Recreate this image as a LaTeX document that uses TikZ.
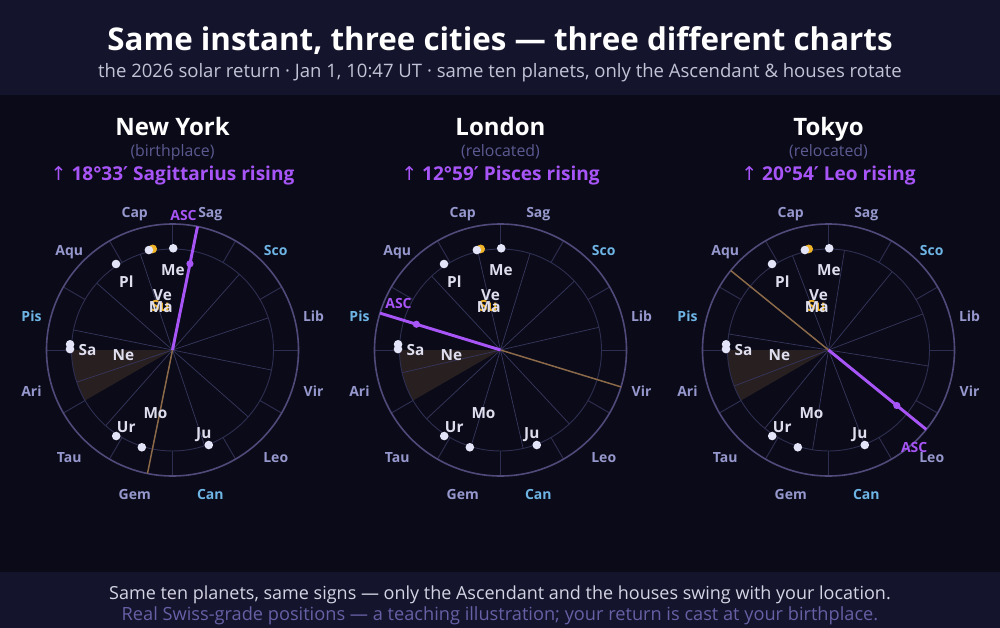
\documentclass[tikz,border=0pt]{standalone}
\usepackage{fontspec}
\setmainfont{Open Sans}
\newfontfamily\arrowfont{DejaVu Sans}
\newcommand\risearrow{{\arrowfont\mdseries ↑}}
\newcommand\minsign{{\arrowfont ′}}
\definecolor{pagebg}{RGB}{10,10,24}
\definecolor{bandbg}{RGB}{20,20,44}
\definecolor{rimc}{RGB}{80,74,122}
\definecolor{ringc}{RGB}{46,46,80}
\definecolor{cuspc}{RGB}{54,54,92}
\definecolor{signc}{RGB}{150,152,205}
\definecolor{waterc}{RGB}{110,180,228}
\definecolor{planetc}{RGB}{222,222,238}
\definecolor{dotc}{RGB}{228,228,248}
\definecolor{sunc}{RGB}{240,180,40}
\definecolor{ascc}{RGB}{168,85,247}
\definecolor{dscc}{RGB}{140,106,72}
\definecolor{wedgec}{RGB}{40,31,33}
\definecolor{subc}{RGB}{195,195,215}
\definecolor{tagc}{RGB}{92,90,145}
\definecolor{footc}{RGB}{212,212,228}
\definecolor{notec}{RGB}{102,96,165}
\begin{document}
\begin{tikzpicture}[x=0.75pt,y=-0.75pt,
  headtitle/.style={anchor=base,inner sep=0,text=white,font=\fontsize{23.5}{28}\selectfont\bfseries},
  subline/.style={anchor=base,inner sep=0,text=subc,font=\fontsize{13.9}{16}\selectfont},
  city/.style={anchor=base,inner sep=0,text=white,font=\fontsize{18}{21}\selectfont\bfseries},
  tagline/.style={anchor=base,inner sep=0,text=tagc,font=\fontsize{11.9}{14}\selectfont},
  rising/.style={anchor=base,inner sep=0,text=ascc,font=\fontsize{14.3}{17}\selectfont\bfseries},
  sign/.style={inner sep=0,yshift=-3pt,text height=7.4pt,text depth=0pt,font=\fontsize{10.5}{12}\selectfont\bfseries},
  planet/.style={inner sep=0,text height=8.2pt,text depth=0pt,text=planetc,font=\fontsize{11.5}{13}\selectfont\bfseries},
  asclbl/.style={inner sep=0,text height=7.4pt,text depth=0pt,text=ascc,font=\fontsize{10.5}{12}\selectfont\bfseries},
  footline/.style={anchor=base,inner sep=0,text=footc,font=\fontsize{13.5}{16}\selectfont},
  noteline/.style={anchor=base,inner sep=0,text=notec,font=\fontsize{13.65}{16}\selectfont},
  rim/.style={draw=rimc,line width=1.2pt},
  ring/.style={draw=ringc,line width=0.7pt},
  cusp/.style={draw=cuspc,line width=0.55pt},
  dsc/.style={draw=dscc,line width=1.1pt},
  ascline/.style={draw=ascc,line width=2.2pt}]

  \fill[pagebg] (0,0) rectangle (1000,628);
  \fill[bandbg] (0,0) rectangle (1000,95);
  \fill[bandbg] (0,572) rectangle (1000,628);
  \useasboundingbox (0,0) rectangle (1000,628);

  \node[headtitle] (title) at (500,50) {Same instant, three cities — three different charts};
  \node[subline] (subtitle) at (500,77) {the 2026 solar return · Jan 1, 10:47 UT · same ten planets, only the Ascendant \& houses rotate};

  \node[city] (ny-name) at (172.5,135) {New York};
  \node[tagline] (ny-tag) at (172.5,156) {(birthplace)};
  \node[rising] (ny-rise) at (172.5,180) {\risearrow\ 18°33\minsign\ Sagittarius rising};
  \node[city] (ldn-name) at (500.5,135) {London};
  \node[tagline] (ldn-tag) at (500.5,156) {(relocated)};
  \node[rising] (ldn-rise) at (500.5,180) {\risearrow\ 12°59\minsign\ Pisces rising};
  \node[city] (tky-name) at (828.5,135) {Tokyo};
  \node[tagline] (tky-tag) at (828.5,156) {(relocated)};
  \node[rising] (tky-rise) at (828.5,180) {\risearrow\ 20°54\minsign\ Leo rising};

  \foreach \c/\cx/\asc/\ax/\ay in {ny/172.5/78.55/11/134.5, ldn/500.5/162.98/-102/46.5, tky/828.5/320.9/85.7/-97.7}{
    \begin{scope}[shift={(\cx,350)},yscale=-1]
      \fill[wedgec] (0,0) -- (180:101) arc[start angle=180,end angle=210,radius=101] -- cycle;
      \foreach \h in {0,...,11} \draw[cusp] (0,0) -- (\asc+30*\h:101);
      \draw[ring] (0,0) circle[radius=101];
      \foreach \k in {0,...,11} \draw[ring] (30*\k:101) -- (30*\k:126);
      \draw[rim] (0,0) circle[radius=126];
      \draw[dsc] (0,0) -- (\asc+180:126);
      \draw[ascline] (0,0) -- (\asc:126);
      \fill[ascc] (\asc:88) circle[radius=3.6];

      \fill[sunc] (101.1:103) circle[radius=4.4];
      \foreach \a/\r in {103.3/102.7, 89.6/101.7, 123.3/102.9, 176.8/102.6, 179.5/102.5, 236.8/102.8, 252.5/102, 290.9/101.7}
        \fill[dotc] (\a:\r) circle[radius=4.3];

      \node[asclbl] (\c-asc) at (\ax,\ay) {ASC};
      \foreach \s/\col [count=\k from 0] in {Ari/signc, Tau/signc, Gem/signc, Can/waterc, Leo/signc, Vir/signc, Lib/signc, Sco/waterc, Sag/signc, Cap/signc, Aqu/signc, Pis/waterc}
        \node[sign,text=\col] (\c-\s) at (195+30*\k:146) {\s};

      \node[planet,text=sunc] (\c-su) at (-12,44) {Su};
      \node[planet] (\c-ve) at (-10,55) {Ve};
      \node[planet] (\c-ma) at (-11.7,42.7) {Ma};
      \node[planet] (\c-me) at (0.5,80) {Me};
      \node[planet] (\c-pl) at (-46.2,67.7) {Pl};
      \node[planet] (\c-sa) at (-85,0) {Sa};
      \node[planet] (\c-ne) at (-49.2,-5) {Ne};
      \node[planet] (\c-mo) at (-17,-63.3) {Mo};
      \node[planet] (\c-ur) at (-46.3,-77.3) {Ur};
      \node[planet] (\c-ju) at (31.3,-83.3) {Ju};
    \end{scope}
  }

  \node[footline] (foot) at (500,599) {Same ten planets, same signs — only the Ascendant and the houses swing with your location.};
  \node[noteline] (note) at (500,620) {Real Swiss-grade positions — a teaching illustration; your return is cast at your birthplace.};
\end{tikzpicture}
\end{document}
